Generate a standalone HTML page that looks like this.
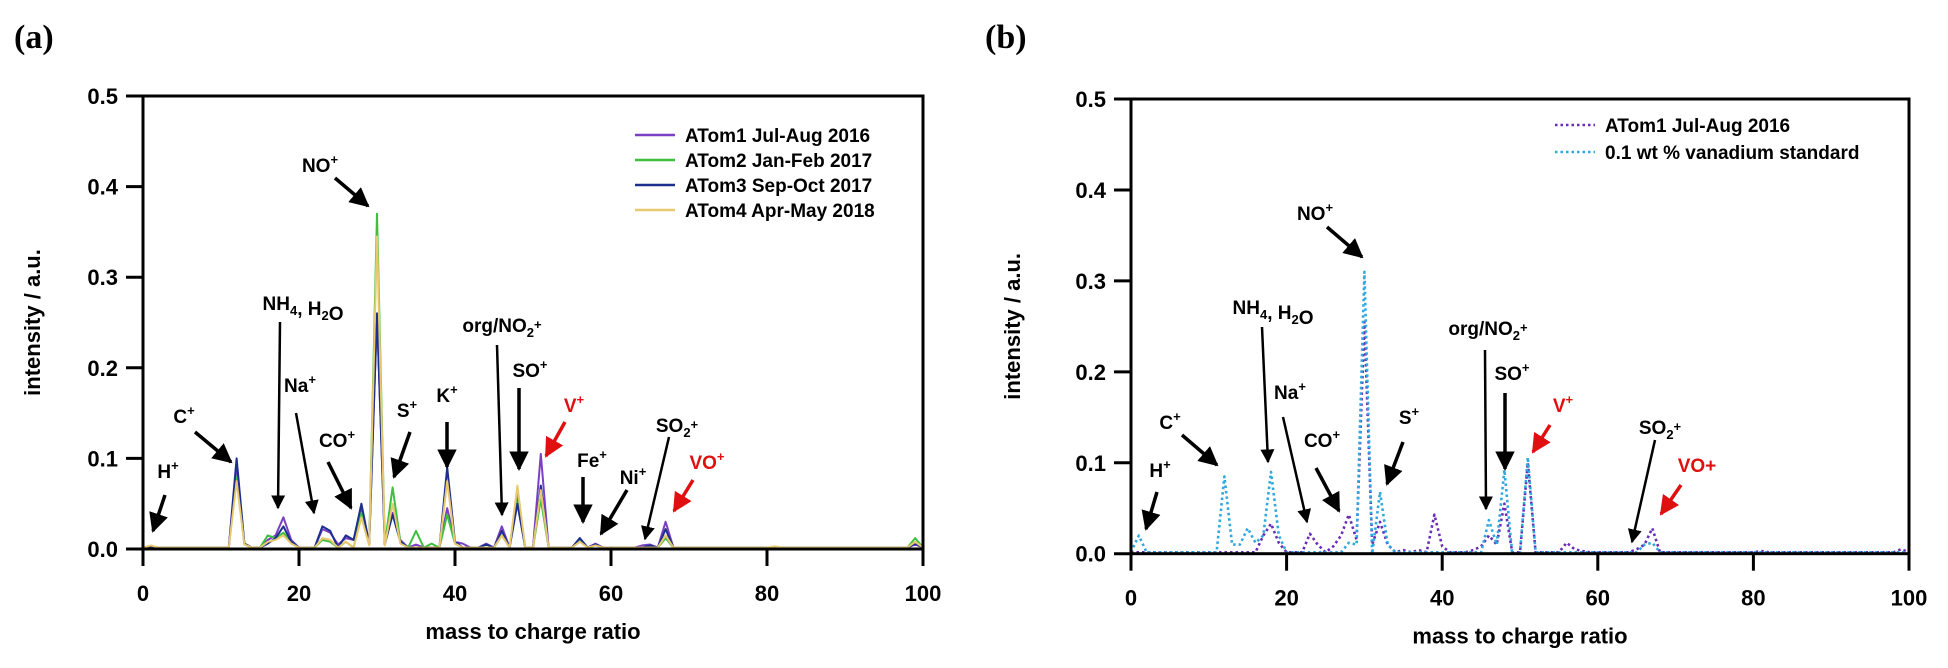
<!DOCTYPE html>
<html><head><meta charset="utf-8"><style>
html,body{margin:0;padding:0;background:#fff}
svg{display:block;font-family:"Liberation Sans",Arial,sans-serif}
.tick{font-size:22px;font-weight:bold}
.ttl{font-size:22px;font-weight:bold}
.ann{font-size:19px;font-weight:bold}
.leg{font-size:19px;font-weight:bold}
</style></head><body>
<svg id="fig" width="1948" height="668" viewBox="0 0 1948 668">
<defs>
<marker id="ah" viewBox="0 0 10 10" refX="9" refY="5" markerWidth="5.6" markerHeight="5.6" orient="auto"><path d="M0,0 L10,5 L0,10 z" fill="#000"/></marker>
<marker id="ahr" viewBox="0 0 10 10" refX="9" refY="5" markerWidth="5.6" markerHeight="5.6" orient="auto"><path d="M0,0 L10,5 L0,10 z" fill="#e01010"/></marker>
</defs>
<text x="14" y="48" font-family="Liberation Serif,serif" font-weight="bold" font-size="34">(a)</text>
<text x="985" y="48" font-family="Liberation Serif,serif" font-weight="bold" font-size="34">(b)</text>
<g id="pa"></g>
<g id="pb"></g>
</svg>
<script>
// x categories: m/z 0..100 ; sparse peak lists (m/z, intensity)
const tickX = [0, 20, 40, 60, 80, 100];
const tickY = [0.0, 0.1, 0.2, 0.3, 0.4, 0.5];
const a1Mz  = [1, 12, 13, 16, 17, 18, 19, 23, 24, 25, 26, 27, 28, 29, 30, 31, 32, 33, 35, 39, 40, 41, 44, 46, 48, 51, 56, 58, 64, 65, 67, 81, 99];
const a1Val = [0.003, 0.09, 0.006, 0.01, 0.015, 0.035, 0.01, 0.022, 0.018, 0.005, 0.012, 0.01, 0.045, 0.005, 0.26, 0.005, 0.04, 0.01, 0.005, 0.045, 0.008, 0.006, 0.006, 0.025, 0.06, 0.105, 0.012, 0.006, 0.004, 0.005, 0.03, 0.002, 0.005];
const a2Mz  = [1, 12, 13, 16, 17, 18, 19, 23, 24, 26, 28, 29, 30, 31, 32, 33, 35, 37, 39, 40, 46, 48, 51, 56, 58, 67, 99];
const a2Val = [0.003, 0.08, 0.005, 0.015, 0.012, 0.018, 0.008, 0.01, 0.008, 0.008, 0.04, 0.005, 0.37, 0.005, 0.068, 0.008, 0.02, 0.006, 0.038, 0.006, 0.015, 0.065, 0.055, 0.01, 0.004, 0.012, 0.012];
const a3Mz  = [1, 12, 13, 16, 17, 18, 19, 23, 24, 26, 27, 28, 29, 30, 31, 32, 33, 39, 40, 44, 46, 48, 51, 56, 58, 65, 67, 99];
const a3Val = [0.003, 0.1, 0.006, 0.006, 0.012, 0.025, 0.008, 0.025, 0.02, 0.015, 0.01, 0.05, 0.006, 0.26, 0.005, 0.038, 0.008, 0.09, 0.008, 0.005, 0.02, 0.05, 0.07, 0.012, 0.005, 0.004, 0.022, 0.006];
const a4Mz  = [1, 12, 13, 16, 17, 18, 19, 23, 24, 26, 28, 29, 30, 31, 32, 33, 39, 40, 46, 48, 51, 56, 58, 67, 81, 99];
const a4Val = [0.004, 0.075, 0.005, 0.008, 0.01, 0.015, 0.006, 0.012, 0.01, 0.008, 0.035, 0.004, 0.345, 0.004, 0.05, 0.006, 0.075, 0.006, 0.015, 0.07, 0.065, 0.008, 0.004, 0.015, 0.003, 0.008];
const b1Mz  = [17, 18, 19, 23, 24, 26, 27, 28, 29, 30, 31, 32, 33, 35, 37, 39, 40, 44, 45, 46, 47, 48, 51, 56, 57, 58, 65, 66, 67, 81, 99];
const b1Val = [0.02, 0.033, 0.012, 0.022, 0.01, 0.008, 0.02, 0.043, 0.015, 0.255, 0.01, 0.035, 0.01, 0.004, 0.004, 0.043, 0.008, 0.004, 0.008, 0.02, 0.01, 0.055, 0.1, 0.012, 0.005, 0.003, 0.005, 0.01, 0.028, 0.003, 0.005];
const b2Mz  = [1, 12, 13, 14, 15, 16, 17, 18, 19, 28, 29, 30, 31, 32, 33, 46, 47, 48, 49, 51, 66, 67];
const b2Val = [0.02, 0.085, 0.01, 0.01, 0.028, 0.012, 0.02, 0.09, 0.02, 0.012, 0.01, 0.31, 0.0, 0.068, 0.01, 0.037, 0.01, 0.092, 0.0, 0.106, 0.01, 0.012];

const NS='http://www.w3.org/2000/svg';
function mk(parent, tag, attrs){const e=document.createElementNS(NS,tag);for(const k in attrs)e.setAttribute(k,attrs[k]);parent.appendChild(e);return e;}
function dense(mz, val){const arr=new Array(101).fill(0.0015);for(let i=0;i<mz.length;i++)arr[mz[i]]=val[i];return arr;}

function panel(g, P, series, legend, anns, legX, legY){
  const sx=v=>P.x0+(v/100)*(P.x1-P.x0);
  const sy=v=>P.y0-(v/0.5)*(P.y0-P.y1);
  series.forEach(s=>{
    const arr=dense(s.mz,s.val);
    const d=arr.map((v,i)=>(i?'L':'M')+sx(i).toFixed(1)+','+sy(v).toFixed(1)).join(' ');
    const p=mk(g,'path',{d:d,fill:'none',stroke:s.color,'stroke-width':s.dash?2.6:2,'stroke-linejoin':'round'});
    if(s.dash){p.setAttribute('stroke-dasharray','2.5 3');}
    
    
  });
  const fr=mk(g,'rect',{x:P.x0,y:P.y1,width:P.x1-P.x0,height:P.y0-P.y1,fill:'none',stroke:'#000','stroke-width':3});
  
  
  tickX.forEach(t=>{
    const x=sx(t);
    const tl=mk(g,'line',{x1:x,x2:x,y1:P.y0,y2:P.y0+17,stroke:'#000','stroke-width':3});
    
    
    const tx=mk(g,'text',{x:x,y:P.y0+52,'text-anchor':'middle',class:'tick'});tx.textContent=t;
    
    
  });
  tickY.forEach(t=>{
    const y=sy(t);
    const tl=mk(g,'line',{x1:P.x0-17,x2:P.x0,y1:y,y2:y,stroke:'#000','stroke-width':3});
    
    
    const tx=mk(g,'text',{x:P.x0-25,y:y+8,'text-anchor':'end',class:'tick'});tx.textContent=t.toFixed(1);
    
    
  });
  const xt=mk(g,'text',{x:(P.x0+P.x1)/2,y:P.y0+90,'text-anchor':'middle',class:'ttl'});xt.textContent='mass to charge ratio';
  
  
  const yt=mk(g,'text',{x:0,y:0,'text-anchor':'middle',class:'ttl',transform:`translate(${P.yt},${(P.y0+P.y1)/2}) rotate(-90)`});yt.textContent='intensity / a.u.';
  
  
  legend.forEach((l,i)=>{
    const y=legY+i*l.step;
    const ln=mk(g,'line',{x1:legX,x2:legX+40,y1:y,y2:y,stroke:l.color,'stroke-width':2.5});
    if(l.dash)ln.setAttribute('stroke-dasharray','2.5 3');
    
    
    const tx=mk(g,'text',{x:legX+50,y:y+7,class:'leg'});tx.textContent=l.label;
    
    
  });
  anns.forEach(a=>{
    const col=a.red?'#e01010':'#000';
    const t=mk(g,'text',{x:a.tx,y:a.ty,class:'ann',fill:col,'text-anchor':'middle'});
    t.innerHTML=a.html;
    
    
    const ln=mk(g,'line',{x1:a.x1,y1:a.y1,x2:a.x2,y2:a.y2,stroke:col,'stroke-width':a.thin?2.5:3.5,'marker-end':a.red?'url(#ahr)':'url(#ah)'});
    
    
  });
}
const sup=s=>`<tspan dy="-8" font-size="13">${s}</tspan>`;
const sub=s=>`<tspan dy="5" font-size="13">${s}</tspan><tspan dy="-5"></tspan>`;

panel(document.getElementById('pa'), {x0:143,x1:923,y0:549,y1:96,yt:40},
 [{name:'series-atom1',mz:a1Mz,val:a1Val,color:'#7b3fc4'},
  {name:'series-atom2',mz:a2Mz,val:a2Val,color:'#3fbf3f'},
  {name:'series-atom3',mz:a3Mz,val:a3Val,color:'#1c2f8f'},
  {name:'series-atom4',mz:a4Mz,val:a4Val,color:'#e8c970'}],
 [{label:'ATom1 Jul-Aug 2016',color:'#7b3fc4',step:25},{label:'ATom2 Jan-Feb 2017',color:'#3fbf3f',step:25},
  {label:'ATom3 Sep-Oct 2017',color:'#1c2f8f',step:25},{label:'ATom4 Apr-May 2018',color:'#e8c970',step:25}],
 [
  {html:'NO'+sup('+'),tx:320,ty:172,x1:335,y1:178,x2:368,y2:206},
  {html:'NH'+sub('4')+', H'+sub('2')+'O',tx:303,ty:310,x1:280,y1:322,x2:278,y2:508,thin:1},
  {html:'Na'+sup('+'),tx:300,ty:392,x1:296,y1:413,x2:314,y2:513,thin:1},
  {html:'C'+sup('+'),tx:184,ty:423,x1:195,y1:432,x2:231,y2:462},
  {html:'H'+sup('+'),tx:168,ty:478,x1:165,y1:495,x2:153,y2:531},
  {html:'CO'+sup('+'),tx:337,ty:447,x1:328,y1:462,x2:351,y2:508},
  {html:'S'+sup('+'),tx:407,ty:417,x1:410,y1:432,x2:394,y2:477},
  {html:'K'+sup('+'),tx:447,ty:402,x1:447,y1:422,x2:447,y2:467},
  {html:'org/NO'+sub('2')+sup('+'),tx:502,ty:332,x1:497,y1:345,x2:502,y2:515,thin:1},
  {html:'SO'+sup('+'),tx:530,ty:377,x1:519,y1:388,x2:519,y2:469},
  {html:'V'+sup('+'),red:1,tx:574,ty:412,x1:565,y1:422,x2:546,y2:456},
  {html:'Fe'+sup('+'),tx:592,ty:467,x1:583,y1:477,x2:583,y2:522},
  {html:'Ni'+sup('+'),tx:633,ty:484,x1:627,y1:490,x2:601,y2:534},
  {html:'SO'+sub('2')+sup('+'),tx:677,ty:432,x1:669,y1:437,x2:645,y2:539,thin:1},
  {html:'VO'+sup('+'),red:1,tx:707,ty:469,x1:693,y1:480,x2:674,y2:511}
 ], 635, 135);

panel(document.getElementById('pb'), {x0:1131,x1:1909,y0:553.7,y1:99,yt:1020},
 [{name:'series-atom1-dotted',mz:b1Mz,val:b1Val,color:'#6a2bb5',dash:1},
  {name:'series-vanadium-standard',mz:b2Mz,val:b2Val,color:'#2ea8dd',dash:1}],
 [{label:'ATom1 Jul-Aug 2016',color:'#6a2bb5',dash:1,step:27},{label:'0.1 wt % vanadium standard',color:'#2ea8dd',dash:1,step:27}],
 [
  {html:'NO'+sup('+'),tx:1315,ty:220,x1:1327,y1:227,x2:1362,y2:257},
  {html:'NH'+sub('4')+', H'+sub('2')+'O',tx:1273,ty:314,x1:1262,y1:327,x2:1268,y2:462,thin:1},
  {html:'Na'+sup('+'),tx:1290,ty:399,x1:1283,y1:417,x2:1307,y2:522,thin:1},
  {html:'C'+sup('+'),tx:1170,ty:429,x1:1182,y1:435,x2:1217,y2:465},
  {html:'H'+sup('+'),tx:1160,ty:477,x1:1157,y1:492,x2:1146,y2:529},
  {html:'CO'+sup('+'),tx:1322,ty:447,x1:1316,y1:468,x2:1339,y2:511},
  {html:'S'+sup('+'),tx:1409,ty:424,x1:1403,y1:442,x2:1387,y2:484},
  {html:'org/NO'+sub('2')+sup('+'),tx:1488,ty:335,x1:1485,y1:350,x2:1486,y2:509,thin:1},
  {html:'SO'+sup('+'),tx:1512,ty:380,x1:1505,y1:393,x2:1505,y2:469},
  {html:'V'+sup('+'),red:1,tx:1563,ty:412,x1:1550,y1:425,x2:1533,y2:452},
  {html:'SO'+sub('2')+sup('+'),tx:1660,ty:434,x1:1655,y1:440,x2:1632,y2:542,thin:1},
  {html:'VO+',red:1,tx:1697,ty:472,x1:1681,y1:485,x2:1661,y2:514}
 ], 1555, 125);
</script>
</body></html>
